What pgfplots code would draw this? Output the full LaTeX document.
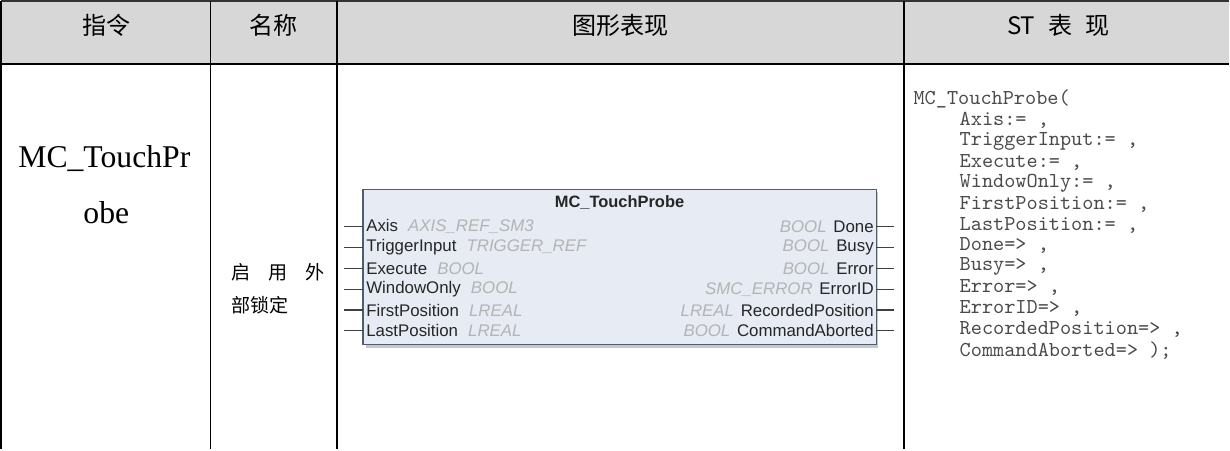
\documentclass[border=0pt]{standalone}
\usepackage{pgfplots}
\pgfplotsset{compat=1.18}
\usepackage{fontspec}
\setmainfont{Liberation Serif}
\newfontfamily\cjk{Noto Sans CJK SC}
\newfontfamily\arial{Liberation Sans}
\definecolor{hdr}{HTML}{D7D7D7}
\definecolor{boxfill}{HTML}{E6EBF4}
\definecolor{boxdraw}{HTML}{4F5D72}
\definecolor{typegray}{HTML}{B4B4B4}
\definecolor{sttext}{HTML}{4A4A4A}
\begin{document}
\begin{tikzpicture}
\begin{axis}[width=615pt,height=226.5pt,scale only axis,
  xmin=0,xmax=1230,ymin=0,ymax=453,y dir=reverse,
  axis lines=none,ticks=none,clip=false]
% header background
\addplot[fill=hdr,draw=none] coordinates {(5,6) (1230,6) (1230,69) (5,69)} -- cycle;
% table lines
\addplot[black!80,line width=0.7pt] coordinates {(5,6) (1230,6)};
\addplot[black,line width=1.1pt] coordinates {(5,69) (1230,69)};
\addplot[black,line width=0.8pt] coordinates {(5,6) (5,453)};
\addplot[black,line width=0.8pt] coordinates {(214,6) (214,453)};
\addplot[black,line width=0.8pt] coordinates {(340,6) (340,453)};
\addplot[black,line width=1.1pt] coordinates {(906,6) (906,453)};
% header texts
\node[font=\cjk\fontsize{12}{14}\selectfont] at (axis cs:110,30) {指令};
\node[font=\cjk\fontsize{12}{14}\selectfont] at (axis cs:277,30) {名称};
\node[font=\cjk\fontsize{12}{14}\selectfont] at (axis cs:623,30) {图形表现};
\node[font=\cjk\fontsize{12}{14}\selectfont] at (axis cs:1060,30) {ST\hspace{0.55em}表\hspace{0.55em}现};
% column 1
\node[font=\fontsize{15.8}{18}\selectfont] at (axis cs:108,163) {MC\_TouchPr};
\node[font=\fontsize{15.8}{18}\selectfont] at (axis cs:110,217) {obe};
% column 2
\node[anchor=west,font=\cjk\fontsize{9.5}{11}\selectfont] at (axis cs:228,277) {启\hspace{0.95em}用\hspace{0.95em}外};
\node[anchor=west,font=\cjk\fontsize{9.5}{11}\selectfont] at (axis cs:228,309) {部锁定};
% function block shadow and body
\addplot[fill=black!22,draw=none] coordinates {(369,196) (880,196) (880,352) (369,352)} -- cycle;
\addplot[fill=boxfill,draw=boxdraw,line width=0.6pt] coordinates {(366,194) (878,194) (878,349) (366,349)} -- cycle;
% pins
\addplot[black!75,line width=0.6pt] coordinates {(347,231) (366,231)};
\addplot[black!75,line width=0.6pt] coordinates {(347,251.8) (366,251.8)};
\addplot[black!75,line width=0.6pt] coordinates {(347,272.6) (366,272.6)};
\addplot[black!75,line width=0.6pt] coordinates {(347,293.4) (366,293.4)};
\addplot[black!75,line width=0.6pt] coordinates {(347,314.2) (366,314.2)};
\addplot[black!75,line width=0.6pt] coordinates {(347,335) (366,335)};
\addplot[black!75,line width=0.6pt] coordinates {(878,231) (896,231)};
\addplot[black!75,line width=0.6pt] coordinates {(878,251.8) (896,251.8)};
\addplot[black!75,line width=0.6pt] coordinates {(878,272.6) (896,272.6)};
\addplot[black!75,line width=0.6pt] coordinates {(878,293.4) (896,293.4)};
\addplot[black!75,line width=0.6pt] coordinates {(878,314.2) (896,314.2)};
\addplot[black!75,line width=0.6pt] coordinates {(878,335) (896,335)};
% block texts
\node[font=\arial\bfseries\fontsize{8.2}{10}\selectfont,text=black!85] at (axis cs:622,207) {MC\_TouchProbe};
\begin{scope}[every node/.style={font=\arial\fontsize{8.4}{10}\selectfont,text=black!85,inner sep=1pt}]
\node[anchor=west] at (axis cs:367,231) {Axis\hspace{0.6em}\textcolor{typegray}{\itshape AXIS\_REF\_SM3}};
\node[anchor=west] at (axis cs:367,251.8) {TriggerInput\hspace{0.6em}\textcolor{typegray}{\itshape TRIGGER\_REF}};
\node[anchor=west] at (axis cs:367,272.6) {Execute\hspace{0.6em}\textcolor{typegray}{\itshape BOOL}};
\node[anchor=west] at (axis cs:367,293.4) {WindowOnly\hspace{0.6em}\textcolor{typegray}{\itshape BOOL}};
\node[anchor=west] at (axis cs:367,314.2) {FirstPosition\hspace{0.6em}\textcolor{typegray}{\itshape LREAL}};
\node[anchor=west] at (axis cs:367,335) {LastPosition\hspace{0.6em}\textcolor{typegray}{\itshape LREAL}};
\node[anchor=east] at (axis cs:878,231) {\textcolor{typegray}{\itshape BOOL}\hspace{0.4em}Done};
\node[anchor=east] at (axis cs:878,251.8) {\textcolor{typegray}{\itshape BOOL}\hspace{0.4em}Busy};
\node[anchor=east] at (axis cs:878,272.6) {\textcolor{typegray}{\itshape BOOL}\hspace{0.4em}Error};
\node[anchor=east] at (axis cs:878,293.4) {\textcolor{typegray}{\itshape SMC\_ERROR}\hspace{0.4em}ErrorID};
\node[anchor=east] at (axis cs:878,314.2) {\textcolor{typegray}{\itshape LREAL}\hspace{0.4em}RecordedPosition};
\node[anchor=east] at (axis cs:878,335) {\textcolor{typegray}{\itshape BOOL}\hspace{0.4em}CommandAborted};
\end{scope}
% ST text
\begin{scope}[every node/.style={font=\ttfamily\fontsize{10.6}{12}\selectfont,text=sttext,anchor=west,inner sep=0pt}]
\node at (axis cs:915,104) {MC\_TouchProbe(};
\node at (axis cs:961,124.9) {Axis:= ,};
\node at (axis cs:961,145.8) {TriggerInput:= ,};
\node at (axis cs:961,166.7) {Execute:= ,};
\node at (axis cs:961,187.6) {WindowOnly:= ,};
\node at (axis cs:961,208.5) {FirstPosition:= ,};
\node at (axis cs:961,229.4) {LastPosition:= ,};
\node at (axis cs:961,250.3) {Done=> ,};
\node at (axis cs:961,271.2) {Busy=> ,};
\node at (axis cs:961,292.1) {Error=> ,};
\node at (axis cs:961,313.0) {ErrorID=> ,};
\node at (axis cs:961,333.9) {RecordedPosition=> ,};
\node at (axis cs:961,354.8) {CommandAborted=> );};
\end{scope}
\end{axis}
\end{tikzpicture}
\end{document}
